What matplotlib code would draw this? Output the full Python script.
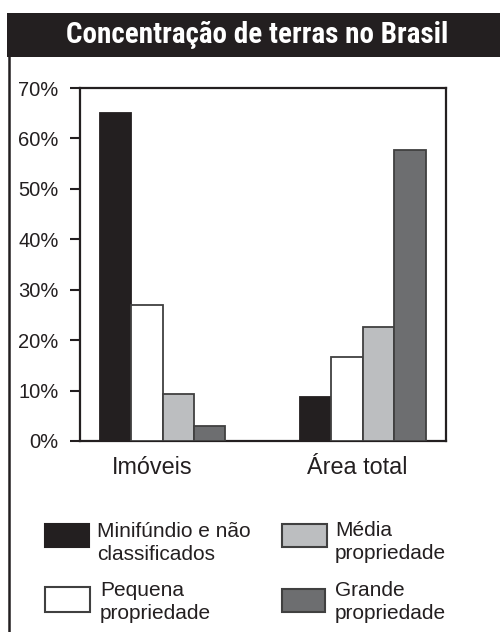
import matplotlib
matplotlib.use("Agg")
import matplotlib.pyplot as plt
from matplotlib.patches import Rectangle
from matplotlib.lines import Line2D
from matplotlib import font_manager
import matplotlib.transforms as mtransforms
import numpy as np

# ---- data ----
groups = ["Imóveis", "Área total"]
series_names = ["Minifúndio e não\nclassificados", "Pequena\npropriedade",
                "Média\npropriedade", "Grande\npropriedade"]
minifundio = [65.0, 8.8]
pequena = [27.0, 16.6]
media = [9.4, 22.7]
grande = [3.0, 57.7]
yticks = [0, 10, 20, 30, 40, 50, 60, 70]
ytick_labels = ["0%", "10%", "20%", "30%", "40%", "50%", "60%", "70%"]
title = "Concentração de terras no Brasil"

# ---- style ----
fills = ["#231f20", "#ffffff", "#bcbec0", "#6d6e70"]
edges = ["#231f20", "#404040", "#404040", "#404040"]
FONT = ["Liberation Sans", "DejaVu Sans"]
plt.rcParams["font.family"] = FONT

installed = {f.name for f in font_manager.fontManager.ttflist}
title_font = "DejaVu Sans"
for cand in ["Roboto Condensed", "Archivo Narrow", "Barlow Condensed",
             "PT Sans Narrow", "Fjalla One", "Liberation Sans Narrow",
             "Arial Narrow", "Oswald", "Open Sans Condensed", "DejaVu Sans Condensed"]:
    if cand in installed:
        title_font = cand
        break

W, H = 500, 632
fig = plt.figure(figsize=(W / 100, H / 100), dpi=100)
fig.patch.set_facecolor("white")

def fx(px):
    return px / W

def fy(py):
    return 1 - py / H

# title bar
fig.add_artist(Rectangle((fx(7), fy(57)), fx(500) - fx(7), fy(13) - fy(57),
                         transform=fig.transFigure, facecolor="#231f20",
                         edgecolor="none"))
t = fig.text(fx(257.5), fy(43), title, color="white", fontsize=20,
             fontweight="bold", ha="center", va="baseline",
             family=[title_font, "DejaVu Sans"])
renderer = fig.canvas.get_renderer()
tw = t.get_window_extent(renderer).width
t.set_fontsize(min(20 * 381 / tw, 28))
# left frame line
fig.add_artist(Line2D([fx(9), fx(9)], [fy(56), 0], transform=fig.transFigure,
                      color="#231f20", lw=1.8))

# axes
ax = fig.add_axes([fx(80), fy(441), fx(446) - fx(80), fy(88) - fy(441)])
x = np.arange(len(groups))
w = 0.157
all_series = [minifundio, pequena, media, grande]
for i, vals in enumerate(all_series):
    ax.bar(x + (i - 1.5) * w, vals, width=w, color=fills[i],
           edgecolor=edges[i], linewidth=1.3, zorder=3)

ax.set_xlim(-0.4125, 1.415)
ax.set_ylim(0, 70)
ax.set_yticks(yticks)
ax.set_yticklabels(ytick_labels, fontsize=14.5, color="#231f20")
ax.tick_params(axis="y", direction="out", length=7, width=1.5,
               pad=8.5, color="#231f20")
ax.set_xticks(x)
ax.set_xticklabels(groups, fontsize=16.8, color="#231f20")
ax.tick_params(axis="x", length=0, pad=11)
offsets = [-10, -6]
for lab, off in zip(ax.get_xticklabels(), offsets):
    lab.set_transform(lab.get_transform() +
                      mtransforms.ScaledTranslation(off / 100, 0, fig.dpi_scale_trans))
for s in ax.spines.values():
    s.set_linewidth(1.6)
    s.set_color("#231f20")

# legend (manual)
patch_boxes = [(45, 524, 89, 547), (45, 587, 90, 612),
               (282, 524, 327, 547), (282, 589, 325, 612)]
text_pos = [(97, 543), (100, 602), (335, 542), (335, 602)]
for i in range(4):
    x0, y0, x1, y1 = patch_boxes[i]
    fig.add_artist(Rectangle((fx(x0), fy(y1)), fx(x1) - fx(x0), fy(y0) - fy(y1),
                             transform=fig.transFigure, facecolor=fills[i],
                             edgecolor=edges[i], linewidth=1.5))
    tx, ty = text_pos[i]
    fig.text(fx(tx), fy(ty), series_names[i], fontsize=15, color="#231f20",
             ha="left", va="center", linespacing=1.3)

fig.savefig("out.png", dpi=100, facecolor="white")
